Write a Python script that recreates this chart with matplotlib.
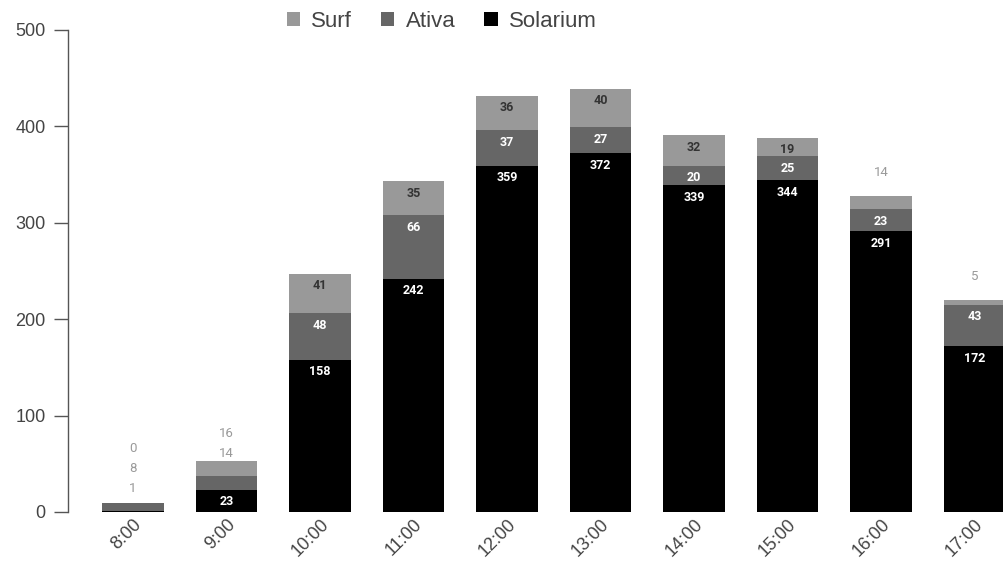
import numpy as np
import matplotlib
matplotlib.use('Agg')
import matplotlib.pyplot as plt
import matplotlib.transforms as mtransforms

hours = ['8:00', '9:00', '10:00', '11:00', '12:00', '13:00', '14:00', '15:00', '16:00', '17:00']
solarium = [1, 23, 158, 242, 359, 372, 339, 344, 291, 172]
ativa = [8, 14, 48, 66, 37, 27, 20, 25, 23, 43]
surf = [0, 16, 41, 35, 36, 40, 32, 19, 14, 5]

series = [
    ('Solarium', solarium, '#000000', '#ffffff'),
    ('Ativa', ativa, '#666666', '#ffffff'),
    ('Surf', surf, '#999999', '#333333'),
]

plt.rcParams['font.family'] = ['Liberation Sans', 'DejaVu Sans']

fig = plt.figure(figsize=(10.04, 5.63), dpi=100)
ax = fig.add_axes([68 / 1004, 1 - 512 / 563, 1 - 68 / 1004, (512 - 30) / 563])

x = np.arange(len(hours))
width = 0.66
px = 96.4 / 100  # pixels per unit (for label rules)
bottom = np.zeros(len(hours))
bars = {}
for name, vals, color, tcolor in series:
    vals = np.array(vals, dtype=float)
    bars[name] = ax.bar(x, vals, width, bottom=bottom, color=color, label=name,
                        linewidth=0, zorder=2)
    bottom = bottom + vals

# value labels
for i in range(len(hours)):
    base = 0.0
    last_out = None
    for name, vals, color, tcolor in series:
        v = vals[i]
        top = base + v
        if v >= 18:
            ax.annotate(str(v), (x[i], top), xytext=(0, -12), textcoords='offset pixels',
                        ha='center', va='center', fontsize=9, fontweight='bold',
                        family=['Roboto', 'DejaVu Sans'], color=tcolor, zorder=3)
        else:
            ypix = top * px + 23
            if last_out is not None and ypix < last_out + 20:
                ypix = last_out + 20
            last_out = ypix
            ax.annotate(str(v), (x[i], 0), xytext=(0, ypix), textcoords='offset pixels',
                        ha='center', va='center', fontsize=9.5, color='#9a9a9a',
                        family=['Roboto', 'DejaVu Sans'], zorder=3)
        base = top

ax.set_xlim(-0.695, 9.315)
ax.set_ylim(0, 500)
ax.set_yticks([0, 100, 200, 300, 400, 500])
ax.set_xticks(x)
ax.set_xticklabels(hours, rotation=45, ha='right', va='top', rotation_mode='anchor')
offset = mtransforms.ScaledTranslation(12 / 100, 0, fig.dpi_scale_trans)
for lbl in ax.get_xticklabels():
    lbl.set_transform(lbl.get_transform() + offset)
for spine in ['top', 'right', 'bottom']:
    ax.spines[spine].set_visible(False)
ax.spines['left'].set_color('#555555')
ax.spines['left'].set_linewidth(1)
ax.tick_params(axis='y', length=10, width=1, color='#555555', labelsize=13,
               labelcolor='#444444', pad=6)
ax.tick_params(axis='x', length=0, labelsize=13, labelcolor='#444444', pad=3)

handles = [bars['Surf'], bars['Ativa'], bars['Solarium']]
fig.legend(handles, ['Surf', 'Ativa', 'Solarium'], loc='center', bbox_to_anchor=(0.44, 0.962),
           ncol=3, frameon=False, fontsize=16, handlelength=0.6, handleheight=0.6,
           handletextpad=0.5, columnspacing=1.3, labelcolor='#444444')

fig.savefig('out.png', dpi=100)
